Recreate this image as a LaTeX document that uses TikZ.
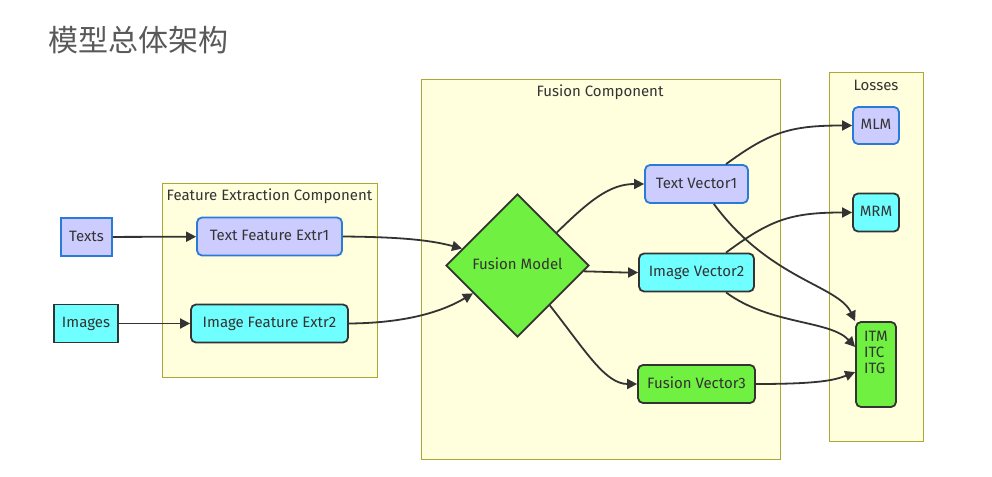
\documentclass[tikz,border=0pt]{standalone}
\usepackage{fontspec}
\setmainfont{Fira Sans}
\newfontfamily\cjk{Noto Sans CJK SC}
\usepackage{tikz}
\usetikzlibrary{arrows.meta}
\usetikzlibrary{shapes.geometric}
\definecolor{lav}{HTML}{CCCCFF}
\definecolor{cyanfill}{HTML}{70FFFF}
\definecolor{greenfill}{HTML}{70F040}
\definecolor{blueline}{HTML}{2A7BD8}
\definecolor{darkline}{HTML}{333333}
\definecolor{clusterfill}{HTML}{FFFFDE}
\definecolor{clusterline}{HTML}{AAAA33}

\begin{document}
\begin{tikzpicture}[x=1pt, y=-1pt,
                   every node/.style={text=darkline, font=\fontsize{15}{17}\selectfont},
                   box/.style={rectangle, line width=1.8pt, minimum height=38, inner sep=2pt},
                   textbox/.style={box, fill=lav, draw=blueline},
                   imagebox/.style={box, fill=cyanfill, draw=darkline},
                   fusionbox/.style={box, fill=greenfill, draw=darkline},
                   cluster/.style={fill=clusterfill, draw=clusterline, line width=0.9pt},
                   link/.style={draw=darkline, line width=1.8pt, -{Triangle[length=10pt,width=10pt]}}]
\useasboundingbox (0,0) rectangle (992,476);
\node[text=black!65, font=\cjk\fontsize{30}{33}\selectfont] (title) at (138,40) {模型总体架构};

% subgraphs
\draw[cluster] (162,183) rectangle (377,377);
\draw[cluster] (421,79) rectangle (780,459);
\draw[cluster] (829,72) rectangle (923,441);
\node (fectitle) at (269.5,196) {Feature Extraction Component};
\node (fctitle) at (600,92) {Fusion Component};
\node (losstitle) at (876,85) {Losses};

% inputs
\node[textbox, minimum width=51] (texts) at (86.5,237) {\raisebox{2pt}{Texts}};
\node[imagebox, minimum width=64] (images) at (86,323.5) {\raisebox{2pt}{Images}};

% feature extraction
\node[textbox, rounded corners=5pt, minimum width=145] (tfe) at (269.5,236.5) {\raisebox{2pt}{Text Feature Extr1}};
\node[imagebox, rounded corners=5pt, minimum width=157] (ife) at (269.5,323.5) {\raisebox{2pt}{Image Feature Extr2}};

% fusion
\node[diamond, fill=greenfill, draw=darkline, line width=1.8pt, inner sep=0pt,
      minimum width=143, minimum height=143] (fusion) at (517.5,265.5) {\raisebox{4pt}{Fusion Model}};
\node[textbox, rounded corners=5pt, minimum width=103] (tv) at (696.5,184) {\raisebox{2pt}{Text Vector1}};
\node[imagebox, rounded corners=5pt, minimum width=115] (iv) at (696.5,272.5) {\raisebox{2pt}{Image Vector2}};
\node[fusionbox, rounded corners=5pt, minimum width=117] (fv) at (696.5,384) {\raisebox{2pt}{Fusion Vector3}};

% losses
\node[textbox, rounded corners=5pt, minimum width=46, minimum height=37] (mlm) at (876,125.5) {\raisebox{2pt}{MLM}};
\node[imagebox, rounded corners=5pt, minimum width=46] (mrm) at (876,212.5) {\raisebox{2pt}{MRM}};
\node[fusionbox, rounded corners=5pt, minimum width=40, minimum height=85] (itm) at (876,364.5)
     {\begin{tabular}{@{}l@{}}ITM\\[-1pt]ITC\\[-1pt]ITG\\[20pt]\end{tabular}};

% connections
\draw[link] (texts) -- (tfe);
\draw[link] (images) -- (ife);
\draw[link] (tfe.east) .. controls (400,237) and (430,240) .. (fusion.163);
\draw[link] (ife.east) .. controls (410,323) and (445,310) .. (fusion.212);
\draw[link] (fusion.40) .. controls (590,200) and (610,184) .. (tv.west);
\draw[link] (fusion.-5) .. controls (610,272) and (620,272.5) .. (iv.west);
\draw[link] (fusion.-51) .. controls (585,350) and (605,384) .. (fv.west);
\draw[link] (tv.34) .. controls (770,132) and (790,125.5) .. (mlm.west);
\draw[link] (tv.-49) .. controls (770,280) and (838,285) .. (itm.north west);
\draw[link] (iv.34) .. controls (770,220) and (790,212.5) .. (mrm.west);
\draw[link] (iv.-34) .. controls (770,325) and (830,320) .. (itm.140);
\draw[link] (fv.east) .. controls (820,384) and (835,380) .. (itm.200);
\end{tikzpicture}
\end{document}
